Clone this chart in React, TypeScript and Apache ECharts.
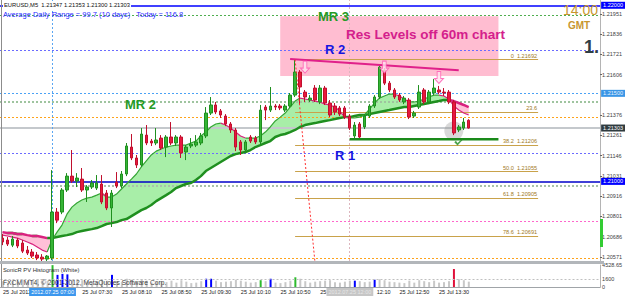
import React, { useEffect, useRef } from "react";
import * as echarts from "echarts";

// ---------- data ----------
const categories: string[] = [];
for (let i = 0; i < 121; i++) {
  const m = 6 * 60 + 10 + 5 * i;
  const h = Math.floor(m / 60) % 24;
  const mm = m % 60;
  categories.push(`25 Jul ${String(h).padStart(2, "0")}:${String(mm).padStart(2, "0")}`);
}

const opens = [1.20678,1.20667,1.20638,1.20667,1.2065,1.2061,1.20599,1.20582,1.2057,1.20559,
1.20565,1.20826,1.20826,1.20951,1.2103,1.21002,1.21013,1.20951,1.20968,1.20962,
1.20985,1.20934,1.20849,1.20996,1.20974,1.21042,1.21195,1.21133,1.21093,1.21263,
1.21229,1.21218,1.21246,1.21195,1.21252,1.21218,1.21252,1.21167,1.21201,1.21206,
1.21218,1.21258,1.21388,1.21434,1.214,1.21371,1.21326,1.21292,1.21224,1.21178,
1.21252,1.21246,1.21224,1.21422,1.21405,1.21428,1.21428,1.21405,1.21428,1.2149,
1.21621,1.21507,1.21462,1.2153,1.21451,1.2153,1.21445,1.21428,1.21417,1.21417,
1.21371,1.21258,1.21326,1.21309,1.21371,1.21428,1.21479,1.21632,1.21558,1.21519,
1.2149,1.21451,1.21462,1.21371,1.21422,1.21519,1.21451,1.21502,1.21519,1.21507,
1.21507,1.21451,1.21292,1.21303,1.21347];
const closes = [1.20656,1.20644,1.20673,1.20633,1.20604,1.20593,1.20576,1.20565,1.20559,1.20576,
1.20826,1.2078,1.20951,1.2103,1.21002,1.21019,1.20951,1.20968,1.20991,1.20991,
1.20883,1.20849,1.20934,1.20974,1.21042,1.21201,1.21133,1.21093,1.21269,1.21218,
1.21218,1.21235,1.21189,1.21252,1.21218,1.21252,1.21161,1.21195,1.21212,1.21224,
1.21258,1.21388,1.21434,1.21394,1.21377,1.21326,1.21292,1.21195,1.21178,1.21224,
1.21229,1.21224,1.21405,1.21405,1.21428,1.21422,1.21417,1.21428,1.2149,1.21621,
1.21536,1.21479,1.21473,1.21462,1.2153,1.21445,1.21377,1.21394,1.21382,1.21365,
1.21303,1.2132,1.21252,1.21371,1.21428,1.21479,1.21649,1.21558,1.21519,1.21479,
1.21462,1.21473,1.21365,1.21388,1.21507,1.21451,1.21507,1.2153,1.21507,1.21502,
1.21451,1.21275,1.21309,1.21337,1.21303];
const lows = [1.20638,1.20633,1.20627,1.20621,1.20593,1.20582,1.20565,1.20553,1.20548,1.20548,
1.20553,1.20763,1.20814,1.2094,1.20991,1.20968,1.2094,1.20883,1.20957,1.20951,
1.20871,1.20837,1.20741,1.20962,1.20962,1.2103,1.21121,1.21076,1.21082,1.21206,
1.21201,1.21206,1.21178,1.21138,1.21206,1.21201,1.21133,1.21121,1.21189,1.21195,
1.21206,1.21246,1.21377,1.21382,1.2136,1.21314,1.21275,1.21172,1.2115,1.21167,
1.21218,1.21212,1.21212,1.21348,1.21394,1.21405,1.21405,1.21394,1.21417,1.21479,
1.21434,1.21451,1.21451,1.21451,1.21439,1.21434,1.21365,1.21377,1.21371,1.21354,
1.21292,1.21246,1.21241,1.21297,1.2136,1.21417,1.21468,1.21547,1.21507,1.21468,
1.21451,1.21439,1.21354,1.2136,1.21411,1.21439,1.21439,1.2149,1.21496,1.21485,
1.21439,1.21263,1.2128,1.21292,1.213];
const highs = [1.20701,1.20684,1.2069,1.20678,1.20667,1.20633,1.20616,1.20599,1.20587,1.20582,
1.21064,1.20849,1.20962,1.21047,1.21178,1.21047,1.21076,1.20979,1.21008,1.21036,
1.21036,1.20951,1.20951,1.21053,1.21059,1.21218,1.21269,1.2115,1.21303,1.2132,
1.21241,1.21303,1.21263,1.21263,1.21337,1.21263,1.21263,1.21206,1.21246,1.21263,
1.21275,1.21422,1.21479,1.21451,1.21411,1.21382,1.21337,1.21303,1.21235,1.21235,
1.21263,1.21258,1.21434,1.21434,1.21536,1.21439,1.21439,1.21439,1.21502,1.21695,
1.21632,1.21519,1.2149,1.21547,1.21547,1.21542,1.21462,1.21445,1.21428,1.21428,
1.21382,1.21337,1.21337,1.21382,1.21439,1.2149,1.21661,1.21644,1.2157,1.2153,
1.21502,1.21485,1.21473,1.214,1.21547,1.2153,1.21519,1.21581,1.21542,1.2153,
1.21519,1.21462,1.2132,1.2136,1.21353];

const fastMA = [1.20695,1.2069,1.20684,1.20678,1.20667,1.20656,1.20644,1.20627,1.2061,1.20599,
1.20667,1.20712,1.20752,1.20814,1.20854,1.20877,1.20894,1.20905,1.20911,1.20922,
1.20934,1.20911,1.20911,1.20928,1.20957,1.20985,1.21013,1.21042,1.21082,1.21116,
1.2115,1.21172,1.21184,1.21195,1.21201,1.21206,1.21206,1.21206,1.21218,1.21229,
1.21258,1.2128,1.21309,1.21326,1.21331,1.2132,1.21303,1.2128,1.21258,1.21246,
1.21246,1.21246,1.21258,1.2128,1.21309,1.21343,1.21365,1.21388,1.21422,1.21456,
1.21473,1.21468,1.21462,1.21456,1.21451,1.21439,1.21434,1.21422,1.214,1.21365,
1.2136,1.2136,1.21365,1.21377,1.21411,1.21445,1.21473,1.21485,1.21496,1.21496,
1.21485,1.21468,1.21451,1.21451,1.21456,1.21468,1.21479,1.2149,1.2149,1.21485,
1.21468,1.21428,1.21405,1.21388,1.21377];
const slowMA = [1.20712,1.20707,1.20707,1.20701,1.20701,1.20695,1.2069,1.2069,1.20684,1.20678,
1.20678,1.20684,1.2069,1.20695,1.20701,1.20712,1.20718,1.20724,1.20729,1.20735,
1.20746,1.20758,1.20763,1.20769,1.2078,1.20786,1.20803,1.2082,1.20837,1.20849,
1.20866,1.20888,1.20905,1.20922,1.2094,1.20962,1.20974,1.20985,1.20991,1.21008,
1.2103,1.21059,1.21076,1.21093,1.2111,1.21127,1.21144,1.21155,1.21161,1.21167,
1.21178,1.21195,1.21206,1.21218,1.21229,1.21252,1.21263,1.21269,1.2128,1.21292,
1.21309,1.2132,1.21326,1.21331,1.21337,1.21343,1.21348,1.21354,1.2136,1.21365,
1.21365,1.21371,1.21377,1.21377,1.21382,1.21388,1.21394,1.214,1.21405,1.21411,
1.21417,1.21422,1.21422,1.21428,1.21434,1.21439,1.21445,1.21451,1.21456,1.21462,
1.21462,1.21456,1.21445,1.21434,1.21422];

const pvValues = [1200,900,1300,1000,1500,1100,1400,1600,1200,1300,
4500,2500,2700,2600,1500,1200,1400,1100,900,1000,
1500,1300,2500,1200,1100,1700,1500,1200,1600,1300,
900,1100,1200,1000,1300,900,1400,1100,800,900,
1200,1700,1700,1300,1000,1100,1200,1500,1300,1100,
900,1000,1400,1200,1700,900,800,1000,1300,2000,
1700,1200,900,1100,1200,1300,1400,1000,900,1100,
1300,1300,1200,1000,1100,1500,1600,1400,1100,1000,
900,800,1300,900,1400,1200,1000,1300,900,1000,
1200,3700,1600,1400,1100];
const pvSignalIdx = [10, 11, 12, 13, 22, 41, 42, 52, 54, 59, 71, 75, 91];
const pvSignalKind = ["up", "vol", "vol", "vol", "vol", "vol", "vol", "up", "vol", "up", "vol", "vol", "down"];
const pvMax = 4528.65;
const pvLevel = 1600;

const priceTicks = [1.20571,1.20686,1.20801,1.20916,1.21031,1.21146,1.21261,1.21376,1.21606,1.21721,1.21836,1.21951];
const levelPrices = [1.22, 1.21942, 1.21746, 1.215, 1.21451, 1.21366, 1.21303, 1.2116, 1.21, 1.20973, 1.20772, 1.20563];
const levelTagged = [true, false, false, true, false, false, true, false, true, false, false, false];

const fibRatios = ["0", "23.6", "38.2", "50.0", "61.8", "78.6"];
const fibPrices = [1.21692, 1.21393, 1.21206, 1.21055, 1.20905, 1.20691];
const fibShowPrice = [true, false, true, true, true, true];
const fibRange = [59, 108];

const resTrend = [[58, 1.21695], [92, 1.21631]];
const fibDiagonal = [[59, 1.21692], [64, 1.20255]];
const supportLine = [[70, 1.2124], [100, 1.2124]];
const sellArrows = [[61, 1.21649], [77, 1.21649], [88, 1.2159]];
const focusCircle = [[91, 1.21286]];
const checkMark = [[92, 1.21224]];
const resBox = [[56, 1.21938], [100, 1.21598]];
const markedBars = [10, 70];

const xTickIdx = [0, 16, 24, 32, 40, 48, 56, 64, 72, 80, 88];
const xTickText = ["25 Jul 2012","25 Jul 07:30","25 Jul 08:10","25 Jul 08:50","25 Jul 09:30","25 Jul 10:10","25 Jul 10:50","25","12:10","25 Jul 12:50","25 Jul 13:30"];
const markedText = ["2012.07.25 07:00", "2012.07.25 12:00"];

// ---------- styles ----------
const FONT = "Liberation Sans";
const levelStyles = [
  { color: "#0000ff", width: 1.5, type: "solid", bg: "#0000ff", fg: "#ffffff" },
  { color: "#4fae4f", width: 1, type: [2, 2] },
  { color: "#6b6bff", width: 1, type: [2, 2] },
  { color: "#4aa2f5", width: 1, type: [2, 2], bg: "#3a96e6", fg: "#eaf4ff" },
  { color: "#9fc49f", width: 2, type: [2, 2] },
  { color: "#ffa31a", width: 1, type: [2, 2] },
  { color: "#c4c8cc", width: 2, type: "solid", bg: "#2f3b3f", fg: "#ffffff" },
  { color: "#6b6bff", width: 1, type: [2, 2] },
  { color: "#0000c8", width: 1.5, type: "solid", bg: "#0000ff", fg: "#ffffff" },
  { color: "#a9c2a9", width: 2, type: [2, 2] },
  { color: "#ff66cc", width: 1, type: [2, 2] },
  { color: "#ffa31a", width: 1, type: [2, 2] },
];
const pvColors: Record<string, string> = { up: "#2dbb2d", vol: "#0000ff", down: "#e0103a" };

function splitBySlope(vals: number[]) {
  const up: (number | null)[] = vals.map(() => null);
  const dn: (number | null)[] = vals.map(() => null);
  for (let i = 0; i < vals.length - 1; i++) {
    const t = vals[i + 1] >= vals[i] ? up : dn;
    t[i] = vals[i];
    t[i + 1] = vals[i + 1];
  }
  return [up, dn];
}

export default function App() {
  const ref = useRef<HTMLDivElement>(null);
  useEffect(() => {
    if (!ref.current) return;
    const chart = echarts.init(ref.current, undefined, { renderer: "svg" });

    const bandBase = fastMA.map((f, i) => Math.min(f, slowMA[i]));
    const bandUp = fastMA.map((f, i) => Math.max(f - slowMA[i], 0));
    const bandDn = fastMA.map((f, i) => Math.max(slowMA[i] - f, 0));
    const [slowUp, slowDn] = splitBySlope(slowMA);
    const [fastUp, fastDn] = splitBySlope(fastMA);

    const levelLines: any[] = levelPrices.map((p, i) => {
      const s: any = levelStyles[i];
      return {
        yAxis: p,
        lineStyle: { color: s.color, width: s.width, type: s.type },
        label: levelTagged[i]
          ? { show: true, position: "end", distance: 1, formatter: p.toFixed(5), backgroundColor: s.bg, color: s.fg, fontSize: 5.5, fontFamily: FONT, padding: [1, 2, 0, 2] }
          : { show: false },
      };
    });
    const vLines: any[] = markedBars.map((k, i) => ({
      xAxis: k,
      lineStyle: { color: i === 0 ? "#5aa6f2" : "#ddb6be", width: 1, type: [2, 2] },
      label: { show: false },
    }));
    const fibLines: any[] = fibPrices.map((p, i) => [
      {
        coord: [fibRange[0], p],
        lineStyle: { color: "#c9a24a", width: 1, type: "solid" },
        label: {
          show: true,
          position: "insideEndTop",
          distance: 1,
          formatter: fibShowPrice[i] ? `${fibRatios[i]}  ${p.toFixed(5)}` : fibRatios[i],
          fontSize: 5.6,
          fontFamily: FONT,
          color: "#a07a22",
        },
      },
      { coord: [fibRange[1], p] },
    ]);

    const option: any = {
      animation: false,
      textStyle: { fontFamily: FONT },
      grid: [
        { left: -1, width: 604, top: 0, height: 261 },
        { left: -1, width: 604, top: 265, height: 22 },
      ],
      xAxis: [
        { type: "category", gridIndex: 0, data: categories, show: false },
        {
          type: "category", gridIndex: 1, data: categories,
          axisLine: { show: true, lineStyle: { color: "#a0a4a8", width: 1 } },
          axisTick: { show: false },
          axisLabel: {
            interval: (i: number) => xTickIdx.includes(i),
            formatter: (_v: string, i: number) => {
              const j = xTickIdx.indexOf(i);
              if (j < 0) return "";
              return i === 72 ? `{s|${xTickText[j]}}` : xTickText[j];
            },
            rich: { s: { fontSize: 5.5, color: "#202020", padding: [0, 0, 0, 17], fontFamily: FONT } },
            align: "left", fontSize: 5.5, color: "#202020", margin: 2,
          },
        },
        {
          type: "category", gridIndex: 1, data: categories, position: "bottom", z: 6,
          axisLine: { show: false }, axisTick: { show: false },
          axisLabel: {
            interval: (i: number) => markedBars.includes(i),
            formatter: (_v: string, i: number) => {
              const j = markedBars.indexOf(i);
              if (j < 0) return "";
              return j === 0 ? `{b|${markedText[0]}}` : `{g|${markedText[1]}}`;
            },
            margin: 1,
            rich: {
              b: { backgroundColor: "#3b97ee", color: "#ffffff", fontSize: 5.5, padding: [1, 2, 1, 2], fontFamily: FONT },
              g: { backgroundColor: "#c6c6c6", color: "#e6e6e6", fontSize: 5.5, padding: [1, 2, 1, 2], fontFamily: FONT },
            },
          },
        },
      ],
      yAxis: [
        {
          type: "value", gridIndex: 0, position: "right", min: 1.20548, max: 1.2203,
          splitLine: { show: false },
          axisLine: { show: true, lineStyle: { color: "#b4b4b4", width: 1 } },
          axisTick: { show: true, length: 2, customValues: priceTicks, lineStyle: { color: "#606060" } },
          axisLabel: { customValues: priceTicks, formatter: (v: number) => v.toFixed(5), fontSize: 5.5, color: "#404040", margin: 2 },
        },
        {
          type: "value", gridIndex: 1, position: "right", min: 0, max: pvMax,
          splitLine: { show: false },
          axisLine: { show: true, lineStyle: { color: "#b4b4b4", width: 1 } },
          axisTick: { show: false },
          axisLabel: {
            customValues: [0, pvLevel, pvMax],
            formatter: (v: number) => (v === pvMax ? pvMax.toFixed(2) : String(v)),
            fontSize: 5.5, color: "#404040", margin: 2,
          },
        },
      ],
      series: [
        {
          type: "line", xAxisIndex: 0, yAxisIndex: 0, data: [], z: 1, silent: true,
          markArea: {
            silent: true, z: 1,
            itemStyle: { color: "#ffbdd1" },
            data: [[{ coord: resBox[0] }, { coord: resBox[1] }]],
          },
        },
        { type: "line", xAxisIndex: 0, yAxisIndex: 0, stack: "band", data: bandBase, symbol: "none", lineStyle: { opacity: 0 }, z: 1, silent: true },
        { type: "line", xAxisIndex: 0, yAxisIndex: 0, stack: "band", data: bandUp, symbol: "none", lineStyle: { opacity: 0 }, areaStyle: { color: "#a8eea8", opacity: 1 }, z: 1, silent: true },
        { type: "line", xAxisIndex: 0, yAxisIndex: 0, stack: "band", data: bandDn, symbol: "none", lineStyle: { opacity: 0 }, areaStyle: { color: "#ffc0d8", opacity: 1 }, z: 1, silent: true },
        {
          type: "line", xAxisIndex: 0, yAxisIndex: 0, data: [], z: 2, silent: true,
          markLine: {
            silent: true, z: 2, symbol: ["none", "none"], precision: 6,
            label: { show: false },
            data: [...levelLines, ...vLines, ...fibLines],
          },
        },
        { type: "line", xAxisIndex: 0, yAxisIndex: 0, data: slowUp, symbol: "none", lineStyle: { color: "#1f8f1f", width: 2.5 }, z: 3, silent: true },
        { type: "line", xAxisIndex: 0, yAxisIndex: 0, data: slowDn, symbol: "none", lineStyle: { color: "#d8227e", width: 2.5 }, z: 3, silent: true },
        { type: "line", xAxisIndex: 0, yAxisIndex: 0, data: fastUp, symbol: "none", lineStyle: { color: "#35a535", width: 1.2 }, z: 3, silent: true },
        { type: "line", xAxisIndex: 0, yAxisIndex: 0, data: fastDn, symbol: "none", lineStyle: { color: "#d8227e", width: 1.2 }, z: 3, silent: true },
        {
          type: "scatter", xAxisIndex: 0, yAxisIndex: 0, data: focusCircle, symbol: "circle", symbolSize: 19,
          itemStyle: { color: "rgba(150,150,150,0.45)" }, z: 3, silent: true,
        },
        {
          type: "candlestick", xAxisIndex: 0, yAxisIndex: 0, barWidth: 3, z: 4, silent: true,
          data: opens.map((o, i) => [o, closes[i], lows[i], highs[i]]),
          itemStyle: { color: "#35b535", color0: "#e8183e", borderColor: "#1f8f1f", borderColor0: "#c0102e", borderWidth: 1 },
        },
        { type: "line", xAxisIndex: 0, yAxisIndex: 0, data: resTrend, symbol: "none", lineStyle: { color: "#e0208a", width: 2 }, z: 5, silent: true },
        { type: "line", xAxisIndex: 0, yAxisIndex: 0, data: fibDiagonal, symbol: "none", lineStyle: { color: "#ff3030", width: 1, type: [2, 2] }, z: 5, silent: true },
        { type: "line", xAxisIndex: 0, yAxisIndex: 0, data: supportLine, symbol: "none", lineStyle: { color: "#1a8a1a", width: 2.5 }, z: 5, silent: true },
        {
          type: "scatter", xAxisIndex: 0, yAxisIndex: 0, data: sellArrows, z: 5, silent: true,
          symbol: "path://M3,0 L7,0 L7,7 L10,7 L5,12 L0,7 L3,7 Z", symbolSize: [9, 12],
          itemStyle: { color: "#ffe2ef", borderColor: "#ff55b0", borderWidth: 1 },
        },
        {
          type: "scatter", xAxisIndex: 0, yAxisIndex: 0, data: checkMark, z: 5, silent: true,
          symbol: "path://M0,5 L2,3 L4,6 L10,0 L11,1 L4,9 Z", symbolSize: [9, 7],
          itemStyle: { color: "#1e8c1e" },
        },
        {
          type: "bar", xAxisIndex: 1, yAxisIndex: 1, barWidth: 2, silent: true,
          data: pvValues.map((v, i) => {
            const j = pvSignalIdx.indexOf(i);
            return { value: v, itemStyle: { color: j >= 0 ? pvColors[pvSignalKind[j]] : "#c8c8c8" } };
          }),
          markLine: {
            silent: true, symbol: ["none", "none"], label: { show: false }, precision: 2,
            data: [{ yAxis: pvLevel, lineStyle: { color: "#c0c0c0", type: [2, 2], width: 1 } }],
          },
        },
      ],
      graphic: [
        { type: "line", z: 10, shape: { x1: 1.5, y1: 0, x2: 1.5, y2: 287 }, style: { stroke: "#8c8c8c", lineWidth: 1 } },
        { type: "rect", z: 10, shape: { x: 0, y: 261, width: 604, height: 3 }, style: { fill: "#b2b6ba" } },
        { type: "rect", z: 10, shape: { x: 600, y: 219, width: 3, height: 28 }, style: { fill: "#33cc33" } },
        { type: "text", z: 20, x: 3, y: 5, style: { text: "EURUSD,M5  1.21347 1.21353 1.21300 1.21303", fill: "#101010", font: `5.8px "${FONT}"`, verticalAlign: "middle", backgroundColor: "#ffffff", padding: [1, 1] } },
        { type: "text", z: 20, x: 3, y: 14.5, style: { text: "Average Daily Range = 99.7 (10 days)   Today = 116.8", fill: "#2a2aff", font: `7.5px "${FONT}"`, verticalAlign: "middle" } },
        { type: "text", z: 20, x: 318, y: 16, style: { text: "MR 3", fill: "#259a25", font: `bold 13px "${FONT}"`, verticalAlign: "middle" } },
        { type: "text", z: 20, x: 346, y: 34, style: { text: "Res Levels off 60m chart", fill: "#d4208c", font: `bold 13.5px "${FONT}"`, verticalAlign: "middle" } },
        { type: "text", z: 20, x: 325, y: 49, style: { text: "R 2", fill: "#1515e0", font: `bold 13px "${FONT}"`, verticalAlign: "middle" } },
        { type: "text", z: 20, x: 125, y: 104, style: { text: "MR 2", fill: "#259a25", font: `bold 13px "${FONT}"`, verticalAlign: "middle" } },
        { type: "text", z: 20, x: 335, y: 155, style: { text: "R 1", fill: "#1515e0", font: `bold 13px "${FONT}"`, verticalAlign: "middle" } },
        { type: "text", z: 20, x: 563, y: 10, style: { text: "14:00", fill: "#c8962e", font: `14px "${FONT}"`, verticalAlign: "middle" } },
        { type: "text", z: 20, x: 568, y: 25.5, style: { text: "GMT", fill: "#c8962e", font: `bold 10px "${FONT}"`, verticalAlign: "middle" } },
        { type: "text", z: 20, x: 584, y: 47, style: { text: "1.", fill: "#2f3d45", font: `bold 18px "${FONT}"`, verticalAlign: "middle" } },
        { type: "text", z: 20, x: 3, y: 270, style: { text: "SonicR PV Histogram (White)", fill: "#303030", font: `5.8px "${FONT}"`, verticalAlign: "middle" } },
        { type: "text", z: 20, x: 3, y: 282.5, style: { text: "FXCM MT4, © 2001-2012, MetaQuotes Software Corp.", fill: "#404040", font: `6.7px "${FONT}"`, verticalAlign: "middle" } },
      ],
    };
    chart.setOption(option);
    return () => chart.dispose();
  }, []);
  return (
    <div
      ref={ref}
      style={{ position: "fixed", left: 0, top: 0, width: 625, height: 299, background: "#ffffff" }}
    />
  );
}
